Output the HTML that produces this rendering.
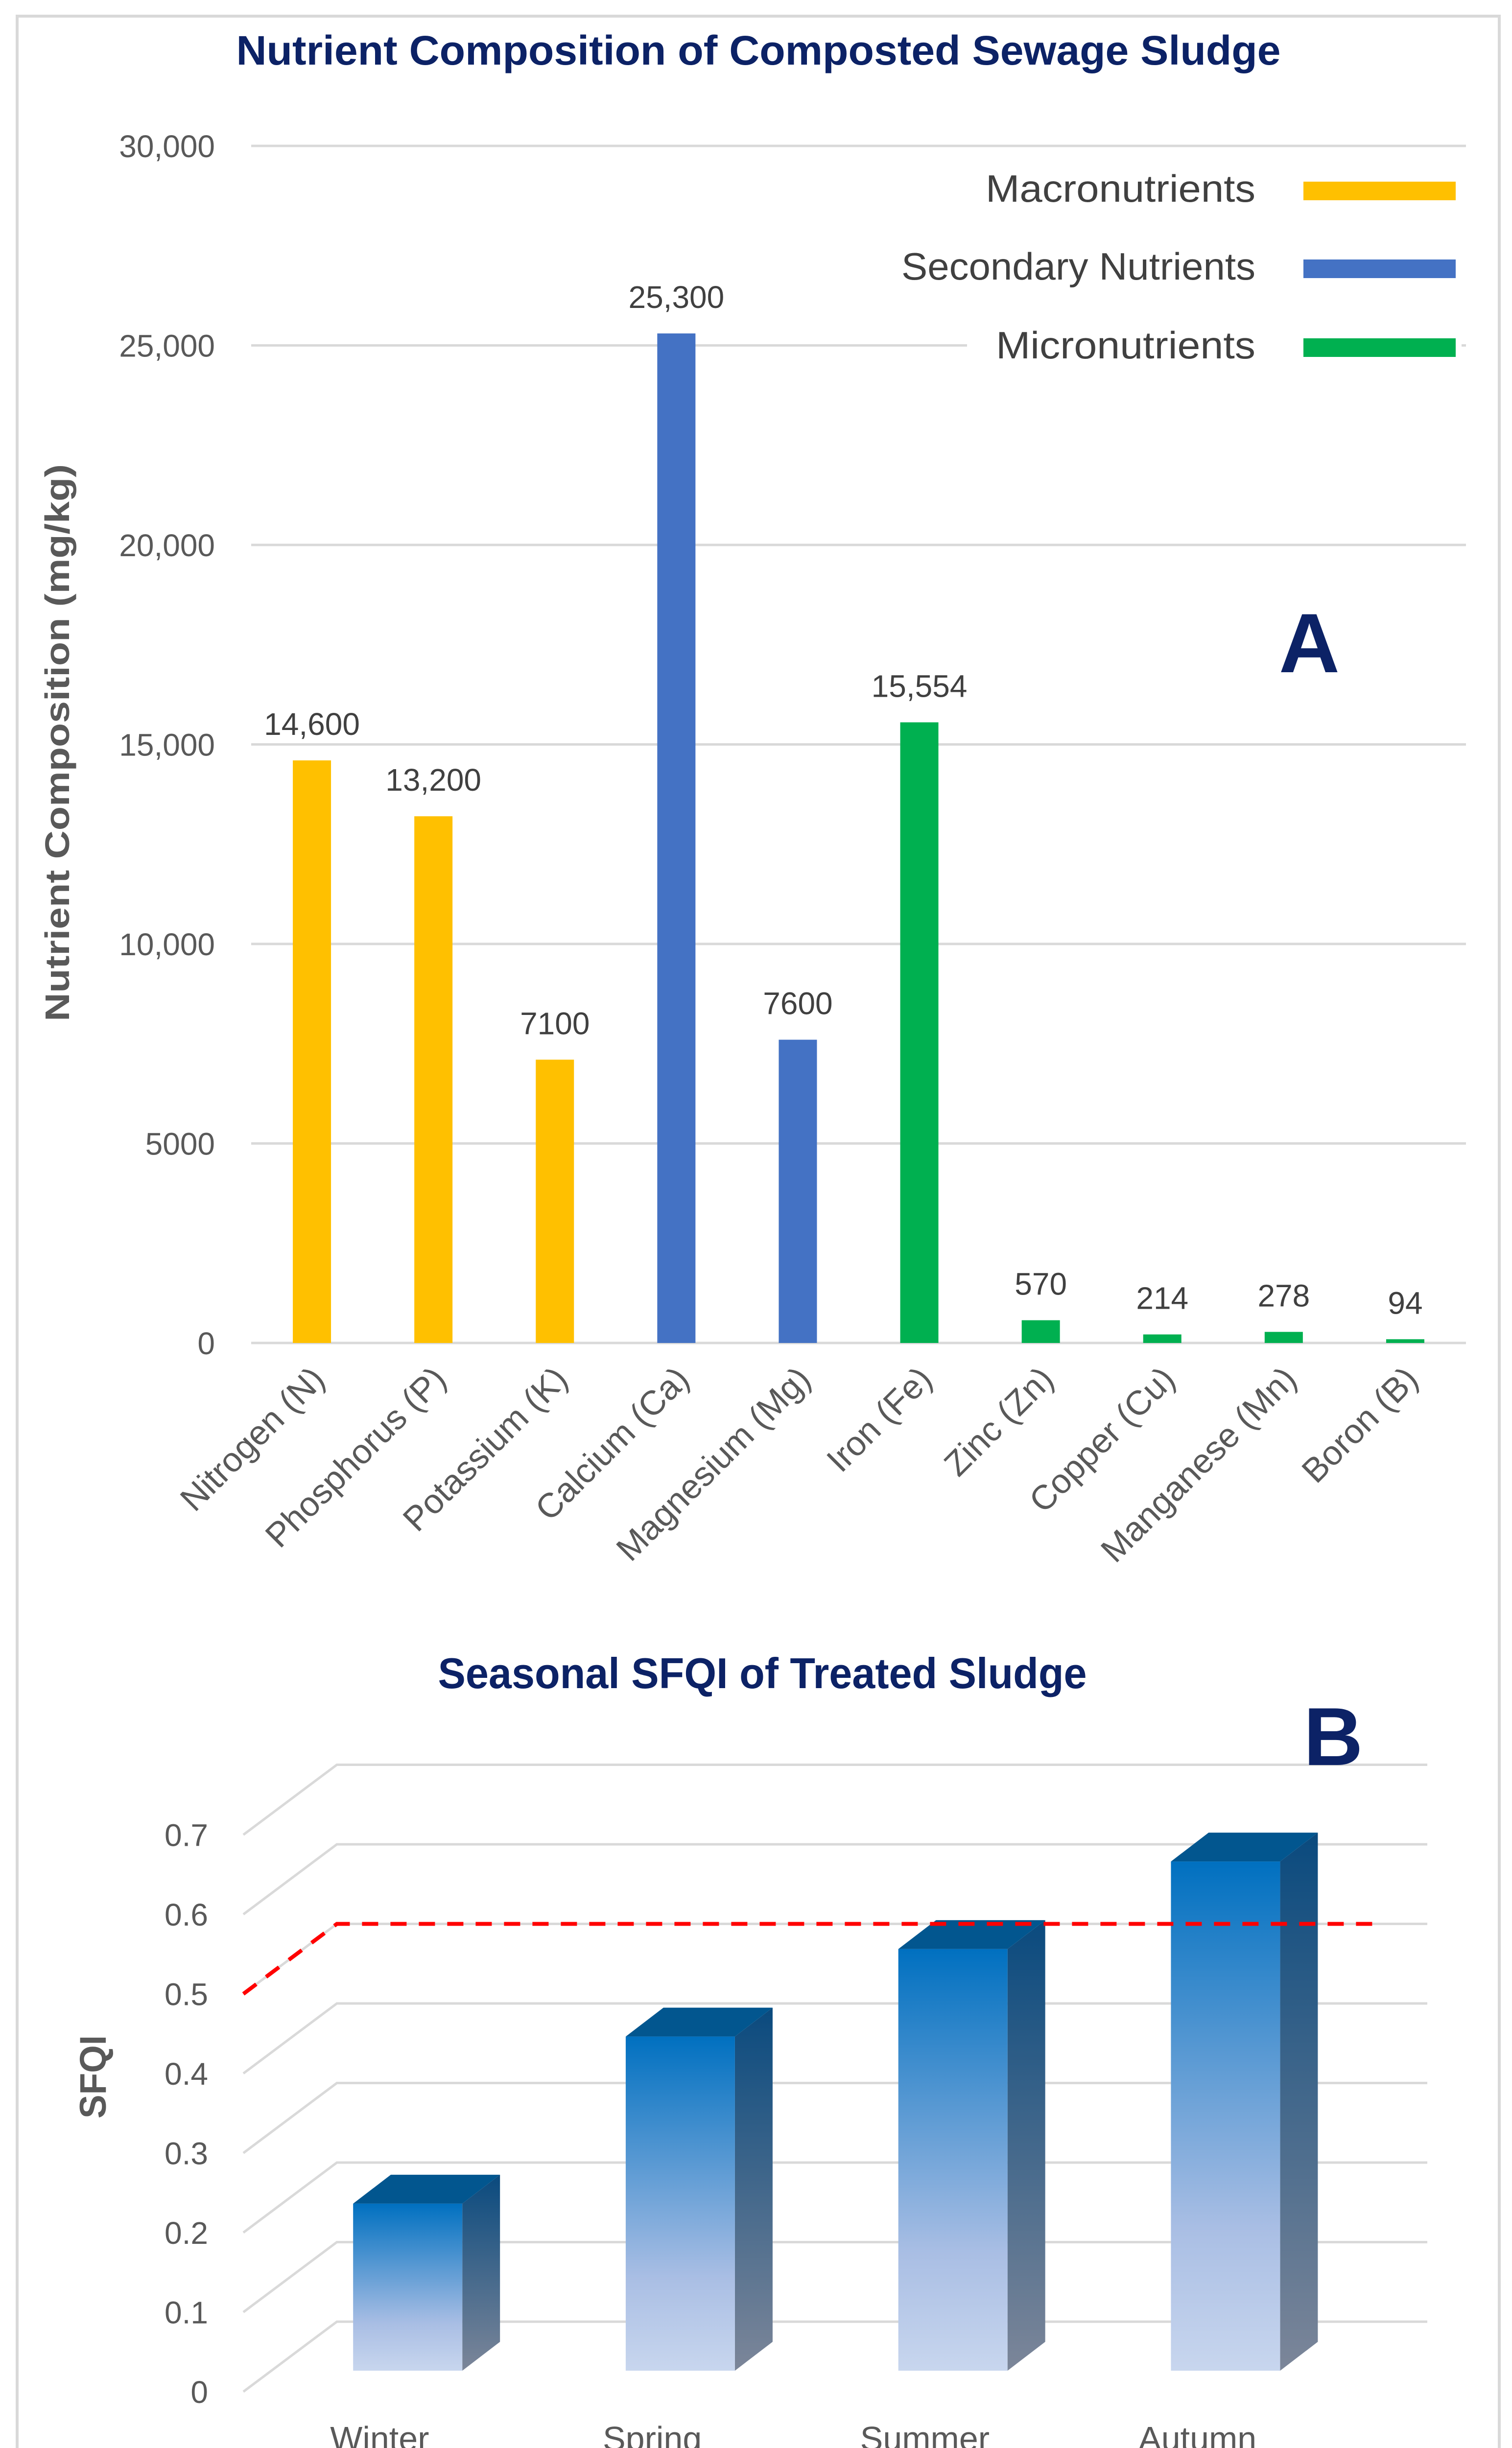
<!DOCTYPE html>
<html><head><meta charset="utf-8"><style>
html,body{margin:0;padding:0;background:#fff;overflow:hidden;}
svg{display:block;}
text{font-family:"Liberation Sans",sans-serif;}
</style></head><body>
<svg id="chart" width="3088" height="5090" viewBox="0 0 3088 5090" xmlns="http://www.w3.org/2000/svg">
<defs>
<linearGradient id="gFront" x1="0" y1="0" x2="0" y2="1">
<stop offset="0" stop-color="#0070C0"/><stop offset="0.72" stop-color="#A9BEE4"/><stop offset="1" stop-color="#C8D6EE"/></linearGradient>
<linearGradient id="gSide" x1="0" y1="0" x2="0" y2="1">
<stop offset="0" stop-color="#0A4A7E"/><stop offset="1" stop-color="#7C8699"/></linearGradient>
</defs>
<rect x="35" y="33" width="3027" height="5025" fill="#fff" stroke="#d9d9d9" stroke-width="6"/>
<g id="chartA"></g>
<g id="chartB"></g>
</svg>
<script>
// ---- Chart A data ----
const nutrientNames = ["Nitrogen (N)","Phosphorus (P)","Potassium (K)","Calcium (Ca)","Magnesium (Mg)","Iron (Fe)","Zinc (Zn)","Copper (Cu)","Manganese (Mn)","Boron (B)"];
const nutrientValues = [14600,13200,7100,25300,7600,15554,570,214,278,94];
const nutrientLabels = ["14,600","13,200","7100","25,300","7600","15,554","570","214","278","94"];
const nutrientGroups = ["macro","macro","macro","secondary","secondary","micro","micro","micro","micro","micro"];
const yTicksA = [0,5000,10000,15000,20000,25000,30000];
const yTickLabelsA = ["0","5000","10,000","15,000","20,000","25,000","30,000"];
const legendNames = ["Macronutrients","Secondary Nutrients","Micronutrients"];
const legendKeys = ["macro","secondary","micro"];
// ---- Chart B data ----
const seasons = ["Winter","Spring","Summer","Autumn"];
const sfqiValues = [0.21,0.42,0.53,0.64];
const yTicksB = [0,0.1,0.2,0.3,0.4,0.5,0.6,0.7];
const yTickLabelsB = ["0","0.1","0.2","0.3","0.4","0.5","0.6","0.7"];
const sfqiThreshold = [0.5];

const NS="http://www.w3.org/2000/svg";
function mk(tag,attrs,parent,txt){const e=document.createElementNS(NS,tag);for(const k in attrs)e.setAttribute(k,attrs[k]);if(txt!==undefined)e.textContent=txt;parent.appendChild(e);return e;}
const colors={macro:"#FFC000",secondary:"#4472C4",micro:"#00B050"};

// ===== Chart A =====
const A=document.getElementById('chartA');
const ax0=513, ax1=2994, ay0=2743, ay1=298, yMaxA=30000;
const yA=v=>ay0-v/yMaxA*(ay0-ay1);
const band=(ax1-ax0)/nutrientNames.length;
const xA=i=>ax0+band*(i+0.5);
let t=mk('text',{x:1549,y:132,'text-anchor':'middle','font-size':84,'font-weight':'bold',fill:'#0C2266',textLength:2133,lengthAdjust:'spacingAndGlyphs'},A,'Nutrient Composition of Composted Sewage Sludge');


yTicksA.forEach((v,i)=>{
  const l=mk('line',{x1:ax0,x2:ax1,y1:yA(v),y2:yA(v),stroke:'#d9d9d9','stroke-width':5},A);
  
  
  const tl=mk('text',{x:439,y:yA(v)+23,'text-anchor':'end','font-size':64,fill:'#595959'},A,yTickLabelsA[i]);
  
  
});
let lb=mk('rect',{x:1975,y:320,width:1010,height:440,fill:'#fff'},A);


const legY=[390,549,710], legW=[551,723,530];
legendNames.forEach((n,i)=>{
  const g=mk('g',{},A);
  
  
  mk('text',{x:2564,y:legY[i]+22,'text-anchor':'end','font-size':78,fill:'#404040',textLength:legW[i],lengthAdjust:'spacingAndGlyphs'},g,n);
  mk('rect',{x:2662,y:legY[i]-19,width:311,height:38,fill:colors[legendKeys[i]]},g);
});
const bw=78;
nutrientValues.forEach((v,i)=>{
  const b=mk('rect',{x:xA(i)-bw/2,y:yA(v),width:bw,height:ay0-yA(v),fill:colors[nutrientGroups[i]]},A);
  
  
  const vl=mk('text',{x:xA(i),y:yA(v)-52,'text-anchor':'middle','font-size':64,fill:'#404040'},A,nutrientLabels[i]);
  
  
  const xl=mk('text',{x:0,y:0,'text-anchor':'end','font-size':70,fill:'#595959',transform:`translate(${xA(i)+30},${ay0+78}) rotate(-45)`},A,nutrientNames[i]);
  
  
});
t=mk('text',{x:0,y:0,'text-anchor':'middle','font-size':70,'font-weight':'bold',fill:'#595959',textLength:1138,lengthAdjust:'spacingAndGlyphs',transform:'translate(141,1517) rotate(-90)'},A,'Nutrient Composition (mg/kg)');


t=mk('text',{x:2674,y:1373,'text-anchor':'middle','font-size':172,'font-weight':'bold',fill:'#0C2266'},A,'A');



// ===== Chart B =====
const B=document.getElementById('chartB');
const fx0=497, bx0=688, bx1=2915, frontY0=4885, backY0=4742, unitB=1625;
const depthDx=bx0-fx0, depthDy=backY0-frontY0;
const yBack=v=>backY0-v*unitB, yFront=v=>frontY0-v*unitB;
const catW=(bx1-depthDx-fx0)/seasons.length;
const xCat=i=>fx0+catW*(i+0.5);
t=mk('text',{x:1557,y:3448,'text-anchor':'middle','font-size':88,'font-weight':'bold',fill:'#0C2266',textLength:1325,lengthAdjust:'spacingAndGlyphs'},B,'Seasonal SFQI of Treated Sludge');


yTicksB.forEach((v,i)=>{
  const g=mk('g',{},B);
  
  
  mk('polyline',{points:`${fx0},${yFront(v)} ${bx0},${yBack(v)} ${bx1},${yBack(v)}`,fill:'none',stroke:'#d9d9d9','stroke-width':5},g);
  const tl=mk('text',{x:425,y:yFront(v)+23,'text-anchor':'end','font-size':64,fill:'#595959'},B,yTickLabelsB[i]);
  
  
});
const depthFrac=0.3, bwB=223, sDx=77, sDy=-59;
const floorY=frontY0+depthDy*depthFrac, shiftX=depthDx*depthFrac;
sfqiValues.forEach((v,i)=>{
  const g=mk('g',{},B);
  
  
  const x0=xCat(i)+shiftX-bwB/2, x1=x0+bwB, top=floorY-v*unitB;
  mk('polygon',{points:`${x1},${top} ${x1+sDx},${top+sDy} ${x1+sDx},${floorY+sDy} ${x1},${floorY}`,fill:'url(#gSide)'},g);
  mk('polygon',{points:`${x0},${top} ${x0+sDx},${top+sDy} ${x1+sDx},${top+sDy} ${x1},${top}`,fill:'#02568F'},g);
  mk('rect',{x:x0,y:top,width:bwB,height:floorY-top,fill:'url(#gFront)'},g);
  const xl=mk('text',{x:xCat(i),y:5005,'text-anchor':'middle','font-size':70,fill:'#595959'},B,seasons[i]);
  
  
});
const th=sfqiThreshold[0];
let rl=mk('polyline',{points:`${fx0},${yFront(th)} ${bx0},${yBack(th)} 2816,${yBack(th)}`,fill:'none',stroke:'#FF0000','stroke-width':8,'stroke-dasharray':'33 25'},B);


t=mk('text',{x:0,y:0,'text-anchor':'middle','font-size':76,'font-weight':'bold',fill:'#595959',textLength:170,lengthAdjust:'spacingAndGlyphs',transform:'translate(216,4242) rotate(-90)'},B,'SFQI');


t=mk('text',{x:2723,y:3605,'text-anchor':'middle','font-size':168,'font-weight':'bold',fill:'#0C2266'},B,'B');


</script>
</body></html>
